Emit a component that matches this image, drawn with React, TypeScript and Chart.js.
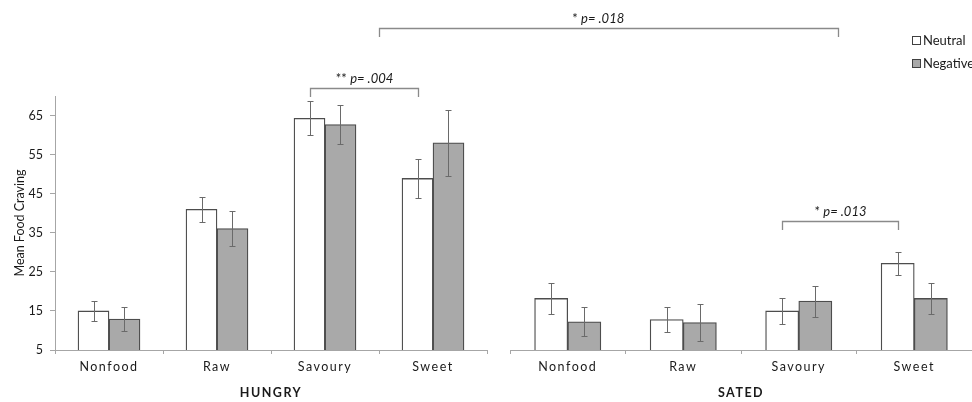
import React, { useEffect, useRef } from "react";
import { Chart, registerables } from "chart.js";

Chart.register(...registerables);

// ---- data ----
const categories = ["Nonfood", "Raw", "Savoury", "Sweet"];
const seriesNames = ["Neutral", "Negative"];
const panelTitles = ["HUNGRY", "SATED"];
const yTitle = "Mean Food Craving";

const hungryNeutral = [15.0, 41.0, 64.3, 48.9];
const hungryNeutralErr = [2.6, 3.2, 4.3, 5.0];
const hungryNegative = [12.9, 36.1, 62.7, 58.0];
const hungryNegativeErr = [3.0, 4.5, 5.0, 8.5];

const satedNeutral = [18.2, 12.8, 15.0, 27.2];
const satedNeutralErr = [4.0, 3.2, 3.4, 3.0];
const satedNegative = [12.2, 12.0, 17.5, 18.2];
const satedNegativeErr = [3.7, 4.8, 4.0, 3.9];

const yTicks = [5, 15, 25, 35, 45, 55, 65];
const yMin = 5;
const yMax = 70;

// significance brackets
const bracketStars = ["*", "**", "*"];
const bracketLabels = ["p= .018", "p= .004", "p= .013"];
const bracketLevels = [87.4, 72.0, 38.0];
// ends: [axisId, categoryValue] or ["bar", datasetIndex, dataIndex]
const bracketFrom: any[] = [["xH", 2.5], ["bar", 0, 2], ["bar", 2, 2]];
const bracketTo: any[] = [["xS", 2.34], ["bar", 0, 3], ["bar", 2, 3]];
// label anchor (axis, value) for the long bracket; null = centred
const bracketTextAt: any[] = [["xH", 4.53], null, null];

// share of a category occupied by the pair of bars (style)
const GROUP = 0.574;

export default function App() {
  const ref = useRef<HTMLCanvasElement>(null);

  useEffect(() => {
    const canvas = ref.current;
    if (!canvas) return;

    const FONT = "Lato, 'Noto Sans', sans-serif";
    const TEXT = "#1a1a1a";
    const AXIS = "#a6a6a6";
    const BORDER = "#4d4d4d";
    const ERR = "#6a6a6a";
    const NEG_FILL = "#a9a9a9";
    const BRACKET = "#8a8a8a";

    const endX = (chart: any, end: any[]) => {
      if (end[0] === "bar") {
        return chart.getDatasetMeta(end[1]).data[end[2]].x;
      }
      return chart.scales[end[0]].getPixelForValue(end[1]);
    };

    const extras = {
      id: "extras",
      afterDatasetsDraw(chart: any) {
        const ctx = chart.ctx;
        const y = chart.scales.y;
        ctx.save();
        ctx.strokeStyle = ERR;
        ctx.lineWidth = 1;
        chart.data.datasets.forEach((ds: any, di: number) => {
          const meta = chart.getDatasetMeta(di);
          meta.data.forEach((el: any, i: number) => {
            const v = ds.data[i].y;
            const e = ds.errors[i];
            const x = Math.round(el.x) + 0.5;
            const yt = Math.round(y.getPixelForValue(v + e)) + 0.5;
            const yb = Math.round(y.getPixelForValue(v - e)) + 0.5;
            ctx.beginPath();
            ctx.moveTo(x, yt);
            ctx.lineTo(x, yb);
            ctx.moveTo(x - 3, yt);
            ctx.lineTo(x + 3, yt);
            ctx.moveTo(x - 3, yb);
            ctx.lineTo(x + 3, yb);
            ctx.stroke();
          });
        });
        ctx.restore();
        // spaced lettering for the x axes (drawn after datasets)
        ctx.letterSpacing = "1.5px";
      },
      afterDraw(chart: any) {
        const ctx = chart.ctx;
        ctx.letterSpacing = "0px";
        const y = chart.scales.y;
        ctx.save();
        // brackets
        bracketLabels.forEach((lab, k) => {
          const x1 = Math.round(endX(chart, bracketFrom[k])) + 0.5;
          const x2 = Math.round(endX(chart, bracketTo[k])) + 0.5;
          const yy = Math.round(y.getPixelForValue(bracketLevels[k])) + 0.5;
          ctx.strokeStyle = BRACKET;
          ctx.lineWidth = 1.3;
          ctx.beginPath();
          ctx.moveTo(x1, yy + 8.5);
          ctx.lineTo(x1, yy);
          ctx.lineTo(x2, yy);
          ctx.lineTo(x2, yy + 8.5);
          ctx.stroke();

          const starFont = `13px ${FONT}`;
          const labFont = `italic 13px ${FONT}`;
          ctx.font = starFont;
          const sw = ctx.measureText(bracketStars[k] + " ").width;
          ctx.font = labFont;
          const lw = ctx.measureText(lab).width;
          const cx = bracketTextAt[k] ? endX(chart, bracketTextAt[k]) : (x1 + x2) / 2;
          const start = cx - (sw + lw) / 2;
          ctx.fillStyle = TEXT;
          ctx.textBaseline = "middle";
          ctx.textAlign = "left";
          ctx.font = starFont;
          ctx.fillText(bracketStars[k] + " ", start, yy - 10);
          ctx.font = labFont;
          ctx.fillText(lab, start + sw, yy - 10);
        });

        // legend
        const fills = ["#ffffff", NEG_FILL];
        seriesNames.forEach((name, k) => {
          const cy = 41 + k * 23;
          ctx.fillStyle = fills[k];
          ctx.fillRect(912.5, cy - 4.5, 8, 8);
          ctx.strokeStyle = "#404040";
          ctx.lineWidth = 1;
          ctx.strokeRect(912.5, cy - 4.5, 8, 8);
          ctx.fillStyle = TEXT;
          ctx.font = `13px ${FONT}`;
          ctx.textAlign = "left";
          ctx.textBaseline = "middle";
          ctx.fillText(name, 923, cy);
        });
        ctx.restore();
      },
    };

    const xAxis = (title: string, weight: number, stackWeight: number) => ({
      type: "linear",
      position: "bottom",
      stack: "x",
      stackWeight,
      weight,
      min: -0.5,
      max: categories.length - 0.5,
      offset: false,
      afterBuildTicks: (s: any) => {
        s.ticks = categories.map((_, i) => ({ value: i }));
      },
      grid: {
        display: true,
        drawOnChartArea: false,
        drawTicks: true,
        tickLength: 4,
        color: AXIS,
        z: 1,
      },
      border: { display: true, color: AXIS, width: 1, z: 1 },
      ticks: {
        font: { family: FONT, size: 12.5 },
        color: TEXT,
        padding: 5,
        autoSkip: false,
        maxRotation: 0,
        minRotation: 0,
        z: 1,
        callback: (v: any) => categories[Math.round(v)] ?? "",
      },
      title: {
        display: true,
        text: title,
        font: { family: FONT, size: 12.5, weight: "bold" },
        color: TEXT,
        padding: { top: 0, bottom: 2 },
      },
      afterFit: (s: any) => {
        s.height = 52;
      },
    });

    const makeSet = (k: number, values: number[], errors: number[], axis: string) => ({
      label: seriesNames[k],
      data: values.map((v, i) => ({ x: i + (k === 0 ? -GROUP / 4 : GROUP / 4), y: v })),
      errors,
      xAxisID: axis,
      yAxisID: "y",
      backgroundColor: k === 0 ? "#ffffff" : NEG_FILL,
      borderColor: BORDER,
      borderWidth: 1.3,
    });

    const chart = new Chart(canvas, {
      type: "bar",
      data: {
        datasets: [
          makeSet(0, hungryNeutral, hungryNeutralErr, "xH"),
          makeSet(1, hungryNegative, hungryNegativeErr, "xH"),
          makeSet(0, satedNeutral, satedNeutralErr, "xS"),
          makeSet(1, satedNegative, satedNegativeErr, "xS"),
        ] as any,
      },
      options: {
        responsive: false,
        animation: false,
        devicePixelRatio: 1,
        datasets: {
          bar: { grouped: false, categoryPercentage: 1.0, barPercentage: 1.0 },
        },
        layout: { padding: { top: 96, left: 0, right: 0, bottom: 0 } },
        plugins: {
          legend: { display: false },
          tooltip: { enabled: false },
          title: { display: false },
        },
        scales: {
          xH: xAxis(panelTitles[0], 1, 432),
          xGap: {
            type: "category",
            labels: [""],
            position: "bottom",
            stack: "x",
            stackWeight: 23,
            weight: 2,
            display: false,
          },
          xS: xAxis(panelTitles[1], 3, 462),
          y: {
            type: "linear",
            position: "left",
            min: yMin,
            max: yMax,
            stacked: false,
            afterBuildTicks: (s: any) => {
              s.ticks = yTicks.map((v) => ({ value: v }));
            },
            grid: {
              display: true,
              drawOnChartArea: false,
              drawTicks: true,
              tickLength: 5,
              color: AXIS,
            },
            border: { display: true, color: AXIS, width: 1 },
            ticks: {
              font: { family: FONT, size: 12.5 },
              color: TEXT,
              padding: 7,
            },
            title: {
              display: true,
              text: yTitle,
              font: { family: FONT, size: 12.5 },
              color: TEXT,
              padding: { top: 12, bottom: 0 },
            },
            afterFit: (s: any) => {
              s.width = 55;
            },
          },
        } as any,
      },
      plugins: [extras],
    } as any);

    return () => chart.destroy();
  }, []);

  return (
    <div
      style={{
        position: "absolute",
        left: 0,
        top: 0,
        width: 972,
        height: 402,
        background: "#ffffff",
      }}
    >
      <canvas ref={ref} width={972} height={402} style={{ display: "block" }} />
    </div>
  );
}
